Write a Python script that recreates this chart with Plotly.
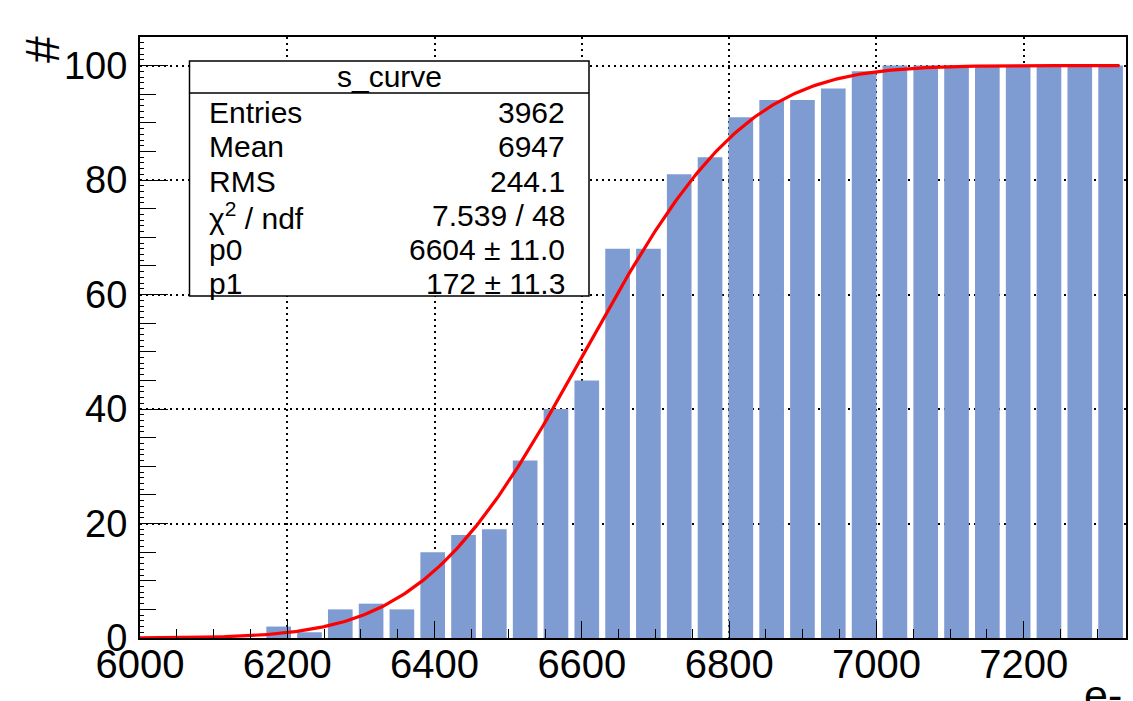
import numpy as np
import plotly.graph_objects as go
from math import erf, sqrt

# ---------------- data ----------------
x_low = 6000.0
bin_width = 41.84
counts = [0, 0, 0, 0, 2, 1, 5, 6, 5, 15, 18, 19, 31, 40, 45, 68,
          68, 81, 84, 91, 94, 94, 96, 99, 100, 100, 100, 100, 100, 100, 100, 100]
fit_p0 = 6604.0
fit_p1 = 172.0
fit_amp = 100.0
fit_xmin, fit_xmax = 6000.0, 7330.0

stats_title = "s_curve"
stats_labels = ["Entries", "Mean", "RMS", "χ<sup>2</sup> / ndf", "p0", "p1"]
stats_values = ["3962", "6947", "244.1", "7.539 / 48", "6604 ± 11.0", "172 ± 11.3"]

x_title = "e-"
y_title = "#"

# ---------------- derived ----------------
centers = [x_low + (i + 0.5) * bin_width for i in range(len(counts))]
x_high = x_low + len(counts) * bin_width
fx = np.linspace(fit_xmin, fit_xmax, 400)
fy = [fit_amp * 0.5 * (1 + erf((v - fit_p0) / (sqrt(2) * fit_p1))) for v in fx]

W, H = 1133, 701
L, R, T, B = 140, 1126, 37, 638


def px(xp):
    return (xp - L) / (R - L)


def py(yp):
    return (B - yp) / (B - T)


FONT = "Liberation Sans, Arial, Helvetica, sans-serif"

fig = go.Figure()
fig.add_trace(go.Bar(x=centers, y=counts, marker=dict(color="rgb(126,155,210)", line=dict(width=0)),
                     hoverinfo="x+y", showlegend=False))
fig.add_trace(go.Scatter(x=fx, y=fy, mode="lines", line=dict(color="#ff0000", width=3.2),
                         yaxis="y2", showlegend=False, hoverinfo="skip"))

fig.update_layout(
    width=W, height=H,
    margin=dict(l=L, r=W - R, t=T, b=H - B, autoexpand=False),
    paper_bgcolor="white", plot_bgcolor="white",
    bargap=0.2,
    font=dict(family=FONT, color="black"),
    xaxis=dict(range=[x_low, x_high], tick0=6000, dtick=200, ticks="inside", ticklen=17,
               tickwidth=1, tickcolor="black",
               minor=dict(dtick=50, tick0=6000, ticks="inside", ticklen=9, tickwidth=1, tickcolor="black",
                          showgrid=False),
               showline=True, linewidth=2, linecolor="black", mirror=True,
               showgrid=True, gridcolor="black", gridwidth=1.5, griddash="2px,4px",
               tickfont=dict(size=40, family=FONT), zeroline=False, automargin=False,
               ticklabelstandoff=-10),
    yaxis=dict(range=[0, 105], tick0=0, dtick=20, ticks="inside", ticklen=28,
               tickwidth=1, tickcolor="black",
               minor=dict(dtick=5, tick0=0, ticks="inside", ticklen=16, tickwidth=1, tickcolor="black",
                          showgrid=False),
               showline=True, linewidth=2, linecolor="black", mirror=True,
               showgrid=True, gridcolor="black", gridwidth=1.5, griddash="2px,4px",
               tickfont=dict(size=38, family=FONT), zeroline=False, automargin=False,
               ticklabelstandoff=3),
    yaxis2=dict(range=[0, 105], overlaying="y", side="left", tick0=0, dtick=1, ticks="inside",
                ticklen=4, tickwidth=1, tickcolor="black", showticklabels=False,
                showgrid=False, zeroline=False, showline=False, automargin=False),
)

shapes = [
    dict(type="rect", xref="paper", yref="paper", x0=px(189.5), x1=px(589), y0=py(296), y1=py(61),
         line=dict(color="black", width=1.5), fillcolor="white", layer="above"),
    dict(type="line", xref="paper", yref="paper", x0=px(189.5), x1=px(589), y0=py(93), y1=py(93),
         line=dict(color="black", width=1.5), layer="above"),
]
fig.update_layout(shapes=shapes)

SF = 30
ann = []
ann.append(dict(text=stats_title, x=px(389), y=py(76), xref="paper", yref="paper",
                xanchor="center", yanchor="middle", showarrow=False, font=dict(size=SF, family=FONT)))
row_y = [112.5, 147, 181.7, 215.7, 249.5, 283]
for lab, val, yy in zip(stats_labels, stats_values, row_y):
    ann.append(dict(text=lab, x=px(207), y=py(yy), xref="paper", yref="paper",
                    xanchor="left", yanchor="middle", showarrow=False, font=dict(size=SF, family=FONT)))
    ann.append(dict(text=val, x=px(567), y=py(yy), xref="paper", yref="paper",
                    xanchor="right", yanchor="middle", showarrow=False, font=dict(size=SF, family=FONT)))
ann.append(dict(text=x_title, x=px(1124), y=py(695), xref="paper", yref="paper",
                xanchor="right", yanchor="middle", showarrow=False, font=dict(size=43, family=FONT)))
ann.append(dict(text=y_title, x=px(43), y=py(50), xref="paper", yref="paper", textangle=-90,
                xanchor="center", yanchor="middle", showarrow=False, font=dict(size=48, family=FONT)))
fig.update_layout(annotations=ann)

fig.write_html("out.html", config={"displayModeBar": False},
               post_script="document.body.style.margin='0px';")
